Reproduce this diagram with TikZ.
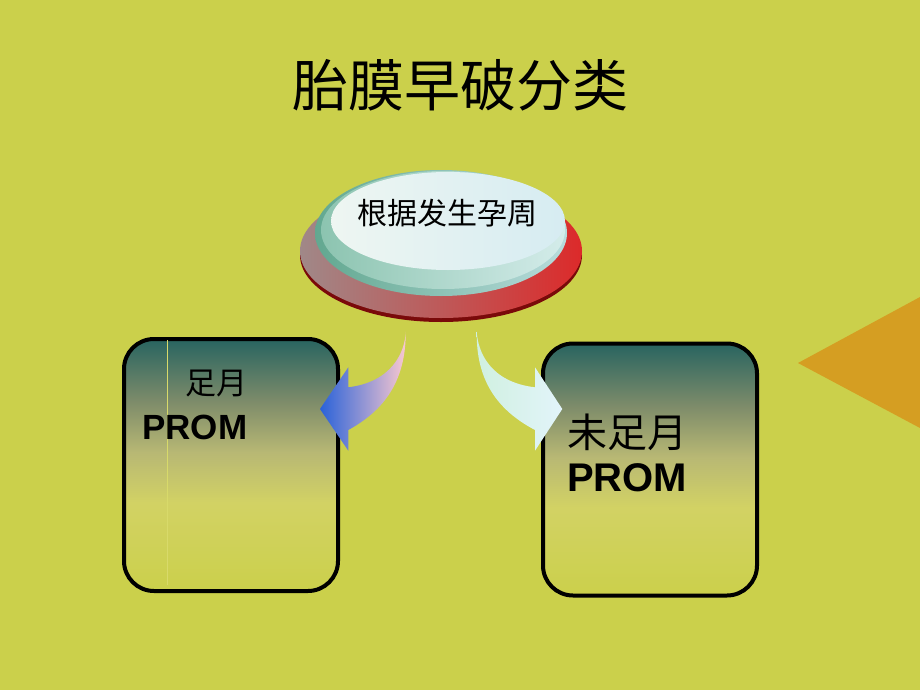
\documentclass[tikz,border=0pt]{standalone}
\usepackage{fontspec}
\setmainfont{Liberation Sans}
\newfontfamily\cjk{Noto Sans CJK SC}
\usetikzlibrary{calc}
\definecolor{bg}{HTML}{CBD04B}
\definecolor{tri}{HTML}{D59E22}
\definecolor{darkred}{HTML}{7A0A0A}
\definecolor{redL}{HTML}{A08888}
\definecolor{redR}{HTML}{DC2A2A}
\definecolor{tealL}{HTML}{62A890}
\definecolor{tealR}{HTML}{B8DCDC}
\definecolor{rimL}{HTML}{8CC4B0}
\definecolor{rimR}{HTML}{D4ECEA}
\definecolor{inL}{HTML}{EEF6F2}
\definecolor{inR}{HTML}{D6ECF2}
\definecolor{arrBlue}{HTML}{2A62D8}
\definecolor{arrPink}{HTML}{FAC8D0}
\definecolor{arrMint}{HTML}{D0F0E0}
\definecolor{arrSky}{HTML}{E2F4FA}
\definecolor{vline}{HTML}{D8DA6A}
\definecolor{bxA}{HTML}{CBD04B}
\definecolor{bxB}{HTML}{D2D264}
\definecolor{bxC}{HTML}{B8B874}
\definecolor{bxD}{HTML}{7E8C6A}
\definecolor{bxE}{HTML}{286460}
\pgfdeclareverticalshading{boxshade}{100bp}{color(0bp)=(bxA); color(25bp)=(bxA); color(42.5bp)=(bxB); color(52.5bp)=(bxC); color(62.5bp)=(bxD); color(75bp)=(bxE); color(100bp)=(bxE)}
\tikzset{
  box/.style={draw=black, line width=4pt, rounded corners=30pt, shade, shading=boxshade, inner sep=0pt, minimum width=214pt, minimum height=252pt},
  cjktext/.style={font=\cjk\fontsize{#1}{#1}\selectfont, inner sep=0pt},
  promtext/.style={font=\bfseries\fontsize{#1}{#1}\selectfont, inner sep=0pt, anchor=west}
}
\begin{document}
\begin{tikzpicture}[x=1pt,y=-1pt]
\fill[bg] (0,0) rectangle (920,690);
\useasboundingbox (0,0) rectangle (920,690);
% orange triangle at right edge
\fill[tri] (798,363) -- (920,297) -- (920,428) -- cycle;
% title
\node[cjktext=56] (title) at (460,85) {胎膜早破分类};
% button
\fill[darkred] (441,255) ellipse [x radius=141, y radius=67];
\shade[left color=redL, right color=redR] (441,251) ellipse [x radius=141, y radius=67];
\shade[left color=tealL, right color=tealR] (441,233) ellipse [x radius=126, y radius=63];
\shade[left color=rimL, right color=rimR] (443,230) ellipse [x radius=122, y radius=59];
\shade[left color=inL, right color=inR] (448,221) ellipse [x radius=117, y radius=49];
\node[cjktext=30] (btn) at (447,213) {根据发生孕周};
% boxes
\node[box] (lbox) at (231,465) {};
\draw[vline, line width=0.8pt] ($(lbox.north west)+(45,3)$) -- ($(lbox.south west)+(45,-8)$);
\node[box] (rbox) at (650,469.5) {};
% arrows
\shade[left color=arrBlue, right color=arrPink]
  (405.7,331.7) .. controls (405,352) and (392,382) .. (348.3,387.3)
  -- (348.3,367.3) -- (320,409) -- (348.3,450.7) -- (348.3,430)
  .. controls (385,410) and (406,380) .. (405.7,331.7) -- cycle;
\shade[left color=arrMint, right color=arrSky]
  (476.7,331.7) .. controls (478,352) and (490,382) .. (535,387.3)
  -- (535,367.3) -- (562.3,409) -- (535,450.7) -- (535,430)
  .. controls (497,410) and (476,380) .. (476.7,331.7) -- cycle;
% box texts
\node[cjktext=31, anchor=west] (l1) at (185,383) {足月};
\node[promtext=35] (l2) at (142,427) {PROM};
\node[cjktext=40, anchor=west] (r1) at (567,432) {未足月};
\node[promtext=40] (r2) at (567,478) {PROM};
\end{tikzpicture}
\end{document}
